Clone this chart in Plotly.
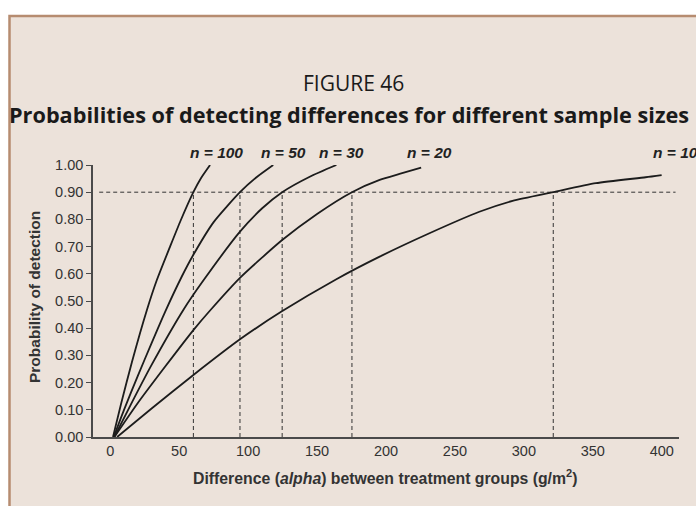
import plotly.graph_objects as go

# ---- data ----
alpha_n100 = [2, 8, 15.7, 26.6, 33.8, 43.4, 51, 60.3, 66, 72.4]
prob_n100 = [0.0, 0.125, 0.275, 0.467, 0.577, 0.70, 0.795, 0.90, 0.953, 1.0]

alpha_n50 = [2.5, 10, 20, 30, 39.8, 51.9, 60.3, 75, 94.1, 106.1, 118.2]
prob_n50 = [0.0, 0.10, 0.225, 0.345, 0.46, 0.59, 0.67, 0.79, 0.90, 0.955, 1.0]

alpha_n30 = [3, 15, 30, 53, 67.5, 94.1, 110, 124.7, 144.7, 164]
prob_n30 = [0.0, 0.12, 0.265, 0.467, 0.575, 0.755, 0.84, 0.90, 0.957, 1.0]

alpha_n20 = [3, 20, 40, 60.3, 72.4, 94.1, 124.7, 150, 175.3, 195.4, 209.8, 225.5]
prob_n20 = [0.0, 0.125, 0.26, 0.393, 0.465, 0.585, 0.724, 0.82, 0.90, 0.945, 0.967, 0.99]

alpha_n10 = [5, 30, 60.3, 94.1, 124.2, 164, 195.4, 231.5, 267.7, 291.8, 321.3, 352.2, 388.3, 399.9]
prob_n10 = [0.0, 0.105, 0.228, 0.359, 0.461, 0.58, 0.663, 0.749, 0.828, 0.868, 0.90, 0.933, 0.955, 0.963]

series_names = ["n = 100", "n = 50", "n = 30", "n = 20", "n = 10"]
series_alpha = [alpha_n100, alpha_n50, alpha_n30, alpha_n20, alpha_n10]
series_prob = [prob_n100, prob_n50, prob_n30, prob_n20, prob_n10]

threshold = 0.90
threshold_span = [-8, 410]
crossing_alpha = [60.3, 94.1, 124.7, 175.3, 321.3]

x_tick_labels = [0, 50, 100, 150, 200, 250, 300, 350, 400]
y_tick_values = [0.0, 0.1, 0.2, 0.3, 0.4, 0.5, 0.6, 0.7, 0.8, 0.9, 1.0]

# ---- layout / style ----
W, H = 696, 506
L, R, T, B = 93, 17, 165, 69
PW, PH = W - L - R, H - T - B
X0, X1 = -12.5, 412.5


def px_to_paper_x(px):
    return (px - L) / PW


def px_to_paper_y(py):
    return (H - B - py) / PH


AX_FONT = "Liberation Sans, Arial, sans-serif"
TITLE_FONT = "Open Sans, Noto Sans, sans-serif"
TXT = "#333333"
LINE = "#1c1c1c"

fig = go.Figure()

# dashed guide lines (threshold and crossing points)
fig.add_trace(go.Scatter(x=threshold_span, y=[threshold, threshold], mode="lines",
                         line=dict(color="#333333", width=1, dash="4px,3px"),
                         hoverinfo="skip", showlegend=False))
for xa in crossing_alpha:
    fig.add_trace(go.Scatter(x=[xa, xa], y=[0, threshold], mode="lines",
                             line=dict(color="#333333", width=1, dash="4px,3px"),
                             hoverinfo="skip", showlegend=False))

# power curves
for name, xs, ys in zip(series_names, series_alpha, series_prob):
    fig.add_trace(go.Scatter(x=xs, y=ys, mode="lines", name=name,
                             line=dict(color=LINE, width=1.8, shape="spline", smoothing=0.6),
                             showlegend=False))

# curve labels (above the plot area)
label_x = [77.2, 125.3, 167.9, 231.2, 392.5]
label_anchor = ["center", "center", "center", "center", "left"]
for name, lx, anc in zip(series_names, label_x, label_anchor):
    fig.add_annotation(x=lx, y=px_to_paper_y(152), xref="x", yref="paper",
                       text="<b><i>" + name + "</i></b>",
                       showarrow=False, xanchor=anc, yanchor="middle",
                       font=dict(family=AX_FONT, size=15.5, color="#222222"))

# titles
fig.add_annotation(x=px_to_paper_x(353), y=px_to_paper_y(83), xref="paper", yref="paper",
                   text="FIGURE 46", showarrow=False, xanchor="center", yanchor="middle",
                   font=dict(family=TITLE_FONT, size=21, color="#1a1a1a"))
fig.add_annotation(x=px_to_paper_x(349), y=px_to_paper_y(114), xref="paper", yref="paper",
                   text="<b>Probabilities of detecting differences for different sample sizes</b>",
                   showarrow=False, xanchor="center", yanchor="middle",
                   font=dict(family=TITLE_FONT, size=21.7, color="#1a1a1a"))

# axis titles
fig.add_annotation(x=px_to_paper_x(34), y=px_to_paper_y(297), xref="paper", yref="paper",
                   text="<b>Probability of detection</b>", textangle=-90, showarrow=False,
                   xanchor="center", yanchor="middle",
                   font=dict(family=AX_FONT, size=15.5, color=TXT))
fig.add_annotation(x=px_to_paper_x(385), y=px_to_paper_y(477), xref="paper", yref="paper",
                   text="<b>Difference (<i>alpha</i>) between treatment groups (g/m<sup>2</sup>)</b>",
                   showarrow=False, xanchor="center", yanchor="middle",
                   font=dict(family=AX_FONT, size=15.8, color=TXT))

# background panel with brown border
fig.add_shape(type="rect", xref="paper", yref="paper", layer="below",
              x0=px_to_paper_x(9.5), x1=px_to_paper_x(720),
              y0=px_to_paper_y(530), y1=px_to_paper_y(16),
              fillcolor="#ECE2DA", line=dict(color="#B68C70", width=2.5))

fig.update_layout(
    width=W, height=H,
    margin=dict(l=L, r=R, t=T, b=B),
    paper_bgcolor="white",
    plot_bgcolor="rgba(0,0,0,0)",
    showlegend=False,
    xaxis=dict(range=[X0, X1], tickmode="array", tickvals=x_tick_labels,
               ticktext=[str(v) for v in x_tick_labels], ticks="",
               showline=True, linecolor="#4a4a4a", linewidth=1.6,
               showgrid=False, zeroline=False,
               tickfont=dict(family=AX_FONT, size=14.5, color=TXT)),
    xaxis2=dict(range=[X0, X1], overlaying="x", anchor="y", side="bottom",
                tickmode="linear", tick0=X0, dtick=25, ticks="outside",
                ticklen=5, tickwidth=1.4, tickcolor="#4a4a4a",
                showticklabels=False, showline=False, showgrid=False, zeroline=False),
    yaxis=dict(range=[0, 1], tickmode="array", tickvals=y_tick_values,
               ticktext=["%.2f" % v for v in y_tick_values],
               ticks="outside", ticklen=5, tickwidth=1.4, tickcolor="#4a4a4a",
               showline=True, linecolor="#4a4a4a", linewidth=1.6,
               showgrid=False, zeroline=False,
               tickfont=dict(family=AX_FONT, size=14.5, color=TXT)),
)

fig.write_html("out.html",
               config={"displayModeBar": False},
               post_script="document.body.style.margin='0';document.body.style.overflow='hidden';")
